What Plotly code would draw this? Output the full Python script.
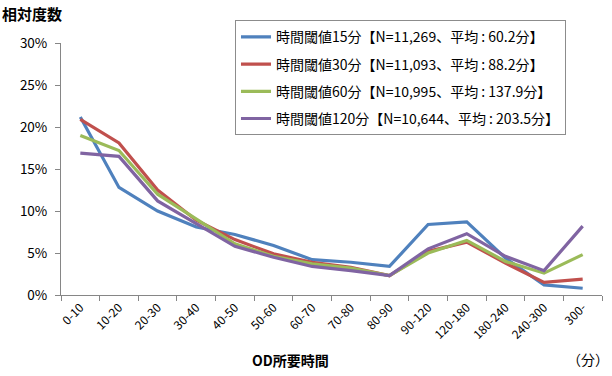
import plotly.graph_objects as go

# OD travel-time classes (minutes)
categories = ["0-10", "10-20", "20-30", "30-40", "40-50", "50-60", "60-70",
              "70-80", "80-90", "90-120", "120-180", "180-240", "240-300", "300-"]

# Relative frequency (%) per time-threshold setting
thr15 = [21.2, 12.8, 10.0, 8.1, 7.2, 5.9, 4.2, 3.9, 3.4, 8.4, 8.7, 4.4, 1.2, 0.8]
thr30 = [20.9, 18.1, 12.5, 8.9, 6.6, 4.9, 3.9, 3.3, 2.3, 5.2, 6.3, 3.8, 1.5, 1.9]
thr60 = [19.0, 17.2, 12.0, 9.0, 6.1, 4.6, 3.7, 3.2, 2.3, 5.0, 6.5, 4.0, 2.6, 4.8]
thr120 = [16.9, 16.5, 11.2, 8.5, 5.8, 4.5, 3.4, 2.9, 2.3, 5.5, 7.3, 4.6, 2.9, 8.2]

series_names = [
    "時間閾値15分【N=11,269、平均 : 60.2分】",
    "時間閾値30分【N=11,093、平均 : 88.2分】",
    "時間閾値60分【N=10,995、平均 : 137.9分】",
    "時間閾値120分【N=10,644、平均 : 203.5分】",
]
series_values = [thr15, thr30, thr60, thr120]
colors = ["#4F81BD", "#C0504D", "#9BBB59", "#8064A2"]

FONT = "Noto Sans CJK JP"
AXIS_COLOR = "#868686"

fig = go.Figure()
for i, (name, vals, col) in enumerate(zip(series_names, series_values, colors)):
    fig.add_trace(go.Scatter(
        x=categories,
        y=[v / 100 for v in vals],
        mode="lines",
        name=name,
        legendgroup=f"g{i}",
        line=dict(color=col, width=3.2),
    ))

fig.update_layout(
    width=612,
    height=376,
    margin=dict(l=61, r=10, t=43, b=81),
    paper_bgcolor="white",
    plot_bgcolor="white",
    font=dict(family=FONT, color="#000000", size=12),
    showlegend=True,
    legend=dict(
        x=0.3216, xanchor="left",
        y=1.09, yanchor="top",
        bordercolor="#8c8c8c", borderwidth=1,
        bgcolor="white",
        font=dict(family=FONT, size=14, color="#000000"),
        traceorder="grouped",
        tracegroupgap=6,
    ),
    xaxis=dict(
        type="category",
        range=[-0.5, len(categories) - 0.5],
        showline=True, linecolor=AXIS_COLOR, linewidth=1,
        ticks="outside", tickson="boundaries", ticklen=5, tickcolor=AXIS_COLOR,
        tickangle=-45,
        tickfont=dict(family=FONT, size=12),
        showgrid=False, zeroline=False,
    ),
    yaxis=dict(
        range=[0, 0.30],
        tickvals=[0, 0.05, 0.10, 0.15, 0.20, 0.25, 0.30],
        tickformat=".0%",
        showline=True, linecolor=AXIS_COLOR, linewidth=1,
        ticks="outside", ticklen=5, tickcolor=AXIS_COLOR,
        ticklabelstandoff=5,
        tickfont=dict(family=FONT, size=13.5),
        showgrid=False, zeroline=False,
    ),
    annotations=[
        dict(text="<b>相対度数</b>", xref="paper", yref="paper",
             x=-61 / 541, y=(295 - 14) / 252, xanchor="left", yanchor="middle",
             showarrow=False, font=dict(family=FONT, size=15)),
        dict(text="<b>OD所要時間</b>", xref="paper", yref="paper",
             x=(290 - 61) / 541, y=-(360 - 295) / 252, xanchor="center", yanchor="middle",
             showarrow=False, font=dict(family=FONT, size=14)),
        dict(text="（分）", xref="paper", yref="paper",
             x=(611 - 61) / 541, y=-(359 - 295) / 252, xanchor="right", yanchor="middle",
             showarrow=False, font=dict(family=FONT, size=14)),
    ],
)

fig.write_html("out.html")
